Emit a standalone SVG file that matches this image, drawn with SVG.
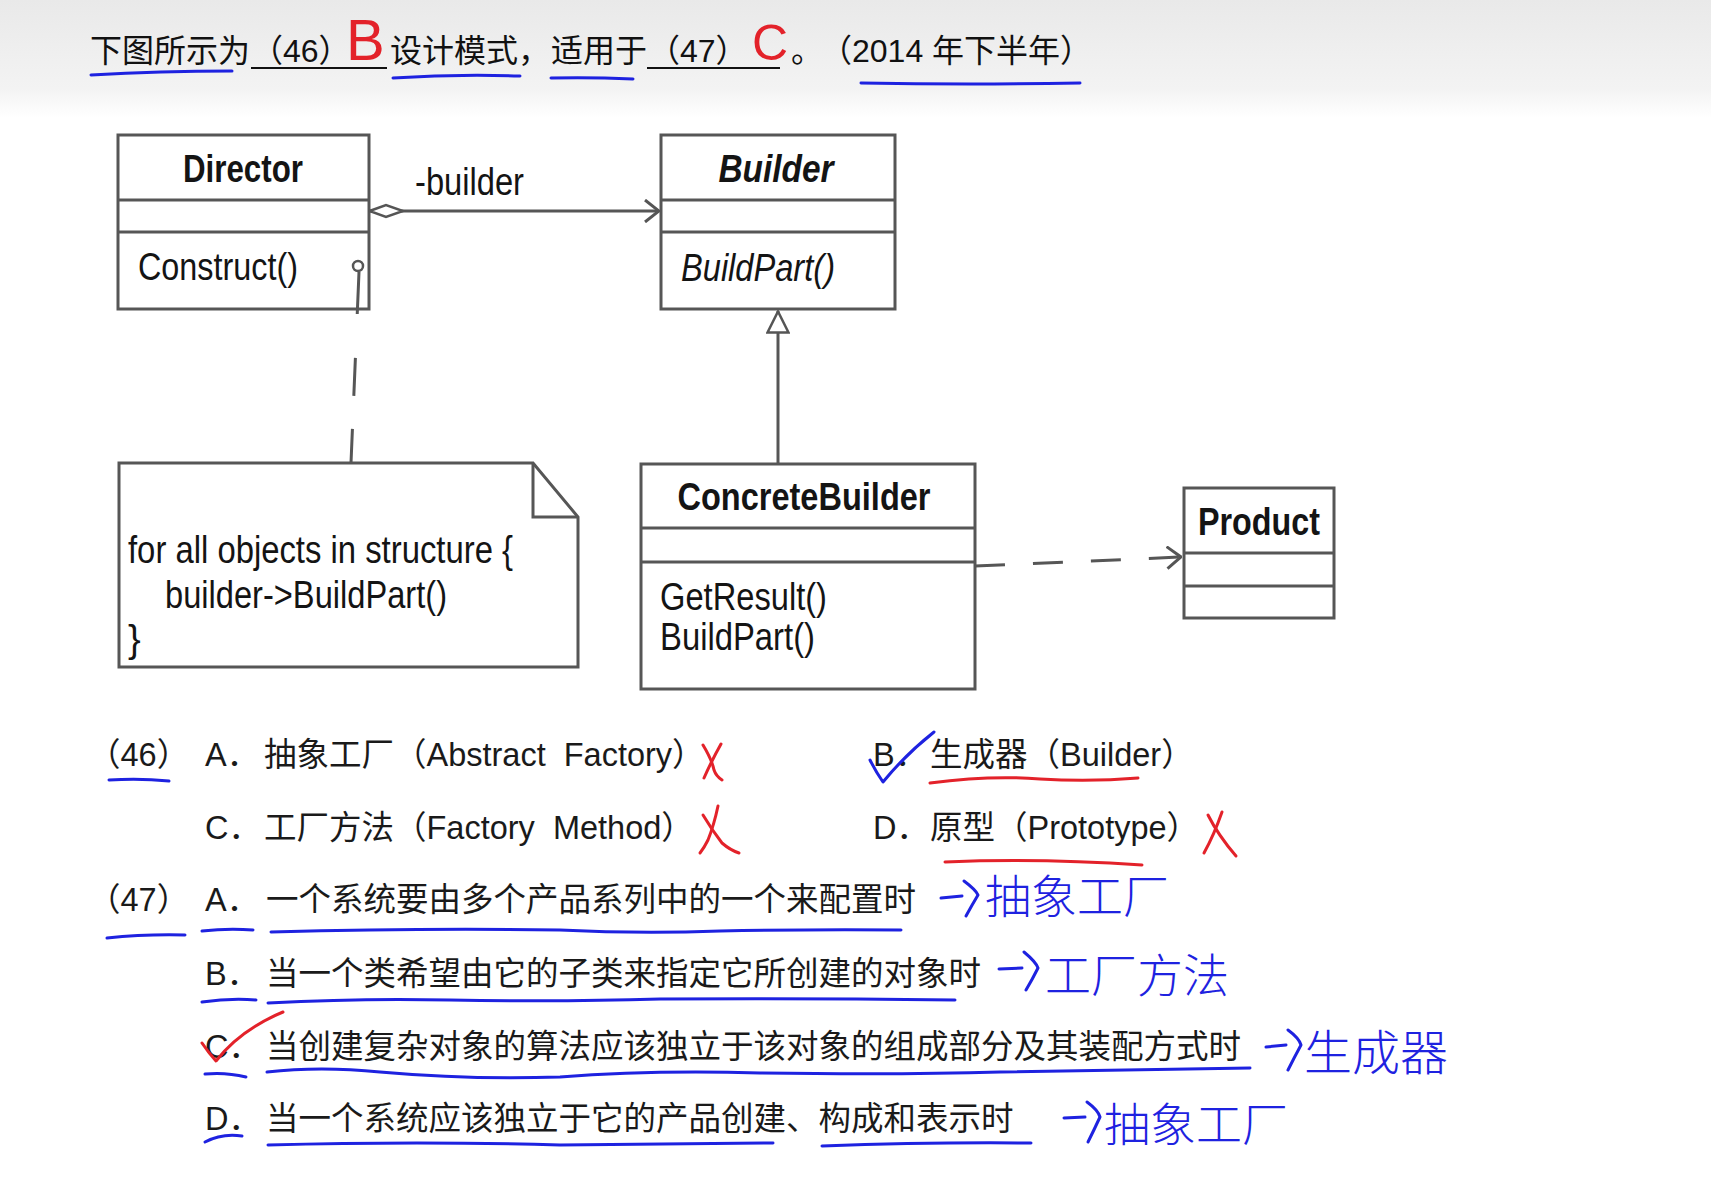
<svg xmlns="http://www.w3.org/2000/svg" width="1711" height="1192" viewBox="0 0 1711 1192">
<defs>
<linearGradient id="hdr" x1="0" y1="0" x2="0" y2="1">
<stop offset="0" stop-color="#e9e9e9"/>
<stop offset="0.75" stop-color="#f3f3f3"/>
<stop offset="1" stop-color="#ffffff"/>
</linearGradient>
<marker id="openArrow" viewBox="0 0 16 24" refX="15" refY="12" markerWidth="16" markerHeight="24" markerUnits="userSpaceOnUse" orient="auto">
<path d="M1,1 L15,12 L1,23" fill="none" stroke="#555" stroke-width="3"/>
</marker>
<marker id="diamond" viewBox="0 0 38 16" refX="1" refY="8" markerWidth="38" markerHeight="16" markerUnits="userSpaceOnUse" orient="auto">
<path d="M1.5,8 L18,2 L35,8 L18,14 Z" fill="#fff" stroke="#555" stroke-width="2.5"/>
</marker>
<marker id="tri" viewBox="0 0 24 24" refX="23" refY="12" markerWidth="24" markerHeight="24" markerUnits="userSpaceOnUse" orient="auto">
<path d="M1.5,1.5 L22.5,12 L1.5,22.5 Z" fill="#fff" stroke="#555" stroke-width="2.5"/>
</marker>
<style>
.box{fill:#fff;stroke:#565656;stroke-width:3}
.dv{stroke:#565656;stroke-width:3}
.uml{font-family:"Liberation Sans",Arial,sans-serif;font-size:38px;fill:#141414}
.b{font-weight:bold}
.i{font-style:italic}
.q{font-family:"Liberation Sans","Noto Sans CJK SC",sans-serif;font-size:32.5px;fill:#1a1a1a}
.h{font-family:"Liberation Sans","Noto Sans CJK SC",sans-serif;font-size:32px;fill:#111}
.conn{fill:none;stroke:#565656;stroke-width:3}
.blue{fill:none;stroke:#1e22e0;stroke-width:3;stroke-linecap:round;stroke-linejoin:round}
.red{fill:none;stroke:#e3222a;stroke-width:3;stroke-linecap:round;stroke-linejoin:round}
.hw{font-family:"Noto Sans CJK SC",sans-serif;font-weight:300;fill:#1e22e0}
.hr{font-family:"Liberation Sans",Arial,sans-serif;fill:#e3222a}
</style>
</defs>

<rect x="0" y="0" width="1711" height="1192" fill="#fff"/>
<rect x="0" y="0" width="1711" height="118" fill="url(#hdr)"/>

<g id="header">
<text class="h" x="90" y="62">下图所示为</text>
<text class="h" x="251" y="62">（46）</text>
<line x1="251" y1="68" x2="387" y2="68" stroke="#111" stroke-width="2.2"/>
<text class="h" x="390" y="62">设计模式，</text>
<text class="h" x="551" y="62">适用于</text>
<text class="h" x="648" y="62">（47）</text>
<line x1="647" y1="68" x2="780" y2="68" stroke="#111" stroke-width="2.2"/>
<text class="h" x="791" y="62">。</text>
<text class="h" x="820" y="62" xml:space="preserve">（2014 年下半年）</text>
<text class="hr" x="346" y="60" font-size="58">B</text>
<text class="hr" x="752" y="60" font-size="50">C</text>
<path class="blue" d="M91,75 Q160,71 232,71"/>
<path class="blue" d="M393,78 Q455,74 520,76"/>
<path class="blue" d="M551,78 Q590,77 633,79"/>
<path class="blue" d="M861,83 Q970,85 1080,83"/>
</g>

<g id="director">
<rect class="box" x="118" y="135" width="251" height="174"/>
<line class="dv" x1="118" y1="200" x2="369" y2="200"/>
<line class="dv" x1="118" y1="232" x2="369" y2="232"/>
<text class="uml b" x="243" y="182" text-anchor="middle" textLength="120" lengthAdjust="spacingAndGlyphs">Director</text>
<text class="uml" x="138" y="280" textLength="160" lengthAdjust="spacingAndGlyphs">Construct()</text>
<circle cx="358" cy="266" r="5" fill="#fff" stroke="#565656" stroke-width="2.5"/>
</g>

<g id="builder">
<rect class="box" x="661" y="135" width="234" height="174"/>
<line class="dv" x1="661" y1="200" x2="895" y2="200"/>
<line class="dv" x1="661" y1="232" x2="895" y2="232"/>
<text class="uml b i" x="776" y="182" text-anchor="middle" textLength="115" lengthAdjust="spacingAndGlyphs">Builder</text>
<text class="uml i" x="681" y="281" textLength="154" lengthAdjust="spacingAndGlyphs">BuildPart()</text>
</g>

<g id="concretebuilder">
<rect class="box" x="641" y="464" width="334" height="225"/>
<line class="dv" x1="641" y1="528" x2="975" y2="528"/>
<line class="dv" x1="641" y1="562" x2="975" y2="562"/>
<text class="uml b" x="804" y="510" text-anchor="middle" textLength="253" lengthAdjust="spacingAndGlyphs">ConcreteBuilder</text>
<text class="uml" x="660" y="610" textLength="167" lengthAdjust="spacingAndGlyphs">GetResult()</text>
<text class="uml" x="660" y="650" textLength="155" lengthAdjust="spacingAndGlyphs">BuildPart()</text>
</g>

<g id="product">
<rect class="box" x="1184" y="488" width="150" height="130"/>
<line class="dv" x1="1184" y1="553" x2="1334" y2="553"/>
<line class="dv" x1="1184" y1="586" x2="1334" y2="586"/>
<text class="uml b" x="1259" y="535" text-anchor="middle" textLength="122" lengthAdjust="spacingAndGlyphs">Product</text>
</g>

<g id="note">
<path class="box" d="M119,463 L533,463 L578,517 L578,667 L119,667 Z"/>
<path d="M533,463 L533,517 L578,517" fill="none" stroke="#565656" stroke-width="3"/>
<text class="uml" x="128" y="563" textLength="385" lengthAdjust="spacingAndGlyphs">for all objects in structure {</text>
<text class="uml" x="165" y="608" textLength="282" lengthAdjust="spacingAndGlyphs">builder-&gt;BuildPart()</text>
<text class="uml" x="128" y="652">}</text>
</g>

<g id="connectors">
<line class="conn" x1="369" y1="211" x2="659" y2="211" marker-start="url(#diamond)" marker-end="url(#openArrow)"/>
<text class="uml" x="415" y="195" textLength="109" lengthAdjust="spacingAndGlyphs">-builder</text>
<line class="conn" x1="778" y1="463" x2="778" y2="311" marker-end="url(#tri)"/>
<path class="conn" d="M975,566 L1181,557" stroke-dasharray="30 28" marker-end="url(#openArrow)"/>
<path class="conn" d="M359,272 L351,463" stroke-dasharray="42 44 38 33 40"/>
</g>

<g id="questions">
<text class="q" x="88" y="766">（46）</text>
<text class="q" x="205" y="766">A．</text>
<text class="q" x="264" y="766" xml:space="preserve">抽象工厂（Abstract  Factory）</text>
<text class="q" x="873" y="766">B．</text>
<text class="q" x="930" y="766">生成器（Builder）</text>
<text class="q" x="205" y="839">C．</text>
<text class="q" x="264" y="839" xml:space="preserve">工厂方法（Factory  Method）</text>
<text class="q" x="873" y="839">D．</text>
<text class="q" x="930" y="839">原型（Prototype）</text>
<text class="q" x="88" y="911">（47）</text>
<text class="q" x="205" y="911">A．</text>
<text class="q" x="266" y="911">一个系统要由多个产品系列中的一个来配置时</text>
<text class="q" x="205" y="985">B．</text>
<text class="q" x="266" y="985">当一个类希望由它的子类来指定它所创建的对象时</text>
<text class="q" x="205" y="1058">C．</text>
<text class="q" x="266" y="1058">当创建复杂对象的算法应该独立于该对象的组成部分及其装配方式时</text>
<text class="q" x="205" y="1130">D．</text>
<text class="q" x="266" y="1130">当一个系统应该独立于它的产品创建、构成和表示时</text>
</g>

<g id="annotations">
<path class="blue" d="M109,780 Q140,778 169,781"/>
<path class="red" d="M703,745 Q712,760 714,770 Q716,776 722,780"/>
<path class="red" d="M721,744 Q712,760 704,778"/>
<path class="red" d="M718,806 Q714,825 708,840 Q704,848 700,853"/>
<path class="red" d="M703,815 Q712,830 722,843 Q730,850 739,853"/>
<path class="red" d="M1208,815 Q1218,835 1236,856"/>
<path class="red" d="M1222,812 Q1214,835 1204,853"/>
<path class="blue" d="M870,760 Q876,772 883,782 Q905,755 934,732"/>
<path class="red" d="M930,783 Q990,775 1040,779 Q1090,782 1138,778"/>
<path class="red" d="M945,862 Q1040,858 1142,865"/>
<path class="blue" d="M107,938 Q145,934 185,935"/>
<path class="blue" d="M202,931 Q228,928 253,930"/>
<path class="blue" d="M271,932 Q420,928 560,930 Q640,934 720,931 Q820,929 901,930"/>
<path class="blue" d="M202,1002 Q230,998 256,1000"/>
<path class="blue" d="M268,1003 Q360,998 450,1000 Q560,1002 660,999 Q800,998 955,1000"/>
<path class="blue" d="M205,1074 Q226,1072 246,1077"/>
<path class="blue" d="M267,1072 Q320,1066 380,1072 Q470,1080 560,1077 Q650,1070 760,1073 Q900,1075 1000,1072 Q1120,1070 1250,1068"/>
<path class="blue" d="M205,1142 Q222,1133 242,1136"/>
<path class="blue" d="M268,1145 Q420,1141 560,1145 Q680,1144 773,1143"/>
<path class="blue" d="M822,1146 Q930,1142 1031,1143"/>
<path class="red" d="M202,1043 Q208,1052 216,1061 Q240,1030 283,1012"/>
<path class="blue" d="M941,898 L962,896 M964,881 Q976,890 978,895 Q972,905 966,916"/>
<text class="hw" x="985" y="913" font-size="46">抽象工厂</text>
<path class="blue" d="M999,969 L1022,968 M1024,952 Q1036,962 1038,968 Q1032,980 1026,990"/>
<text class="hw" x="1045" y="992" font-size="46">工厂方法</text>
<path class="blue" d="M1266,1047 L1286,1045 M1288,1030 Q1299,1038 1301,1045 Q1294,1058 1288,1070"/>
<text class="hw" x="1304" y="1070" font-size="48">生成器</text>
<path class="blue" d="M1064,1118 L1085,1117 M1087,1102 Q1098,1110 1100,1117 Q1094,1130 1088,1142"/>
<text class="hw" x="1104" y="1141" font-size="46">抽象工厂</text>
</g>
</svg>
